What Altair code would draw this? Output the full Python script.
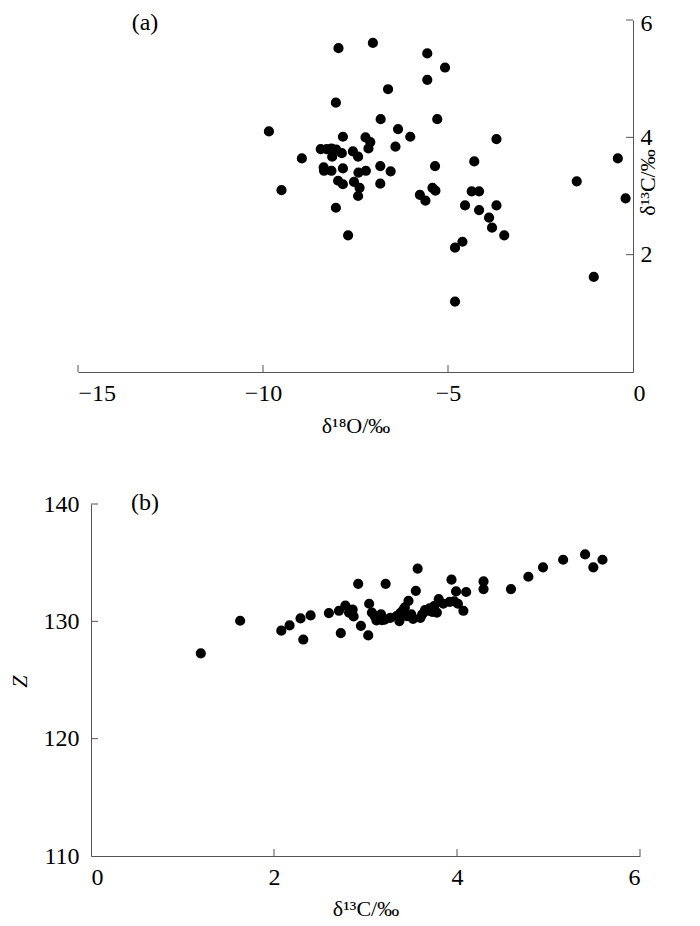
import altair as alt
import pandas as pd

# ---------------- data ----------------
# panel (a): delta18O vs delta13C
d18O = [-9.84, -9.50, -8.95, -7.96, -7.03, -8.03, -7.84, -7.23, -7.10, -7.15,
        -6.82, -6.62, -6.35, -6.02, -6.42, -6.83, -6.55, -6.83, -8.03, -7.70,
        -5.56, -5.08, -5.56, -5.29, -5.35, -5.76, -5.61, -5.42, -5.34, -4.29,
        -4.36, -4.16, -4.54, -4.16, -3.69, -3.69, -3.89, -3.81, -3.48, -4.81,
        -4.61, -4.81, -1.52, -0.41, -0.20, -1.06,
        -8.44, -8.28, -8.02, -7.87, -8.13, -7.57, -7.43, -8.36, -8.35, -8.15,
        -7.84, -7.42, -7.22, -7.97, -7.84, -7.54, -7.39, -7.43, -8.15]
d13C_a = [4.10, 3.10, 3.64, 5.52, 5.61, 4.59, 4.01, 4.00, 3.92, 3.81,
          4.31, 4.82, 4.14, 4.01, 3.84, 3.51, 3.42, 3.21, 2.80, 2.33,
          5.43, 5.19, 4.98, 4.31, 3.51, 3.02, 2.92, 3.14, 3.09, 3.59,
          3.08, 3.08, 2.84, 2.76, 2.84, 3.97, 2.63, 2.46, 2.33, 2.12,
          2.22, 1.20, 3.25, 3.64, 2.96, 1.62,
          3.80, 3.80, 3.79, 3.73, 3.67, 3.76, 3.67, 3.49, 3.43, 3.43,
          3.47, 3.40, 3.43, 3.26, 3.20, 3.24, 3.14, 3.00, 3.81]

# panel (b): delta13C vs Z
d13C_b = [1.20, 1.63, 2.08, 2.17, 2.29, 2.32, 2.40, 2.60, 2.71, 2.73,
          2.78, 2.82, 2.87, 2.92, 2.95, 3.03, 3.04, 3.07, 3.10, 3.12,
          3.17, 3.21, 3.22, 3.34, 3.37, 3.41, 3.45, 3.47, 3.57, 3.55,
          3.52, 3.60, 3.65, 3.70, 3.73, 3.78, 3.80, 3.92, 3.94, 3.99,
          4.01, 4.07, 4.10, 4.29, 4.29, 4.59, 4.78, 4.94, 5.16, 5.40,
          5.49, 5.59,
          3.12, 3.18, 3.38, 3.43, 3.50, 3.62, 3.68, 3.75, 3.85, 3.97,
          2.86, 3.27]
Z = [127.27, 130.05, 129.20, 129.65, 130.25, 128.45, 130.50, 130.70, 130.90, 129.00,
     131.35, 130.75, 130.42, 133.20, 129.62, 128.80, 131.50, 130.75, 130.45, 130.07,
     130.60, 130.15, 133.20, 130.44, 130.02, 130.95, 130.45, 131.75, 134.50, 132.60,
     130.20, 130.30, 130.95, 131.10, 130.80, 130.75, 131.90, 131.65, 133.55, 132.55,
     131.50, 130.90, 132.50, 133.40, 132.75, 132.75, 133.80, 134.60, 135.25, 135.70,
     134.60, 135.25,
     130.30, 130.10, 130.70, 131.20, 130.60, 130.60, 130.90, 131.30, 131.50, 131.70,
     131.00, 130.30]

ticks_a_x = [-15, -10, -5, 0]
ticks_a_y = [2, 4, 6]
ticks_b_x = [0, 2, 4, 6]
ticks_b_y = [110, 120, 130, 140]
panel_a_label = ["(a)"]
panel_b_label = ["(b)"]

# ---------------- style ----------------
FONT = "Liberation Serif"
FS = 24       # tick labels, panel letters
TFS = 22      # axis titles
AX = "#555555"
TICK = 7
WA, HA = 542, 352
WB, HB = 549, 352
DOT = 104

df_a = pd.DataFrame({"d18O": d18O, "d13C": d13C_a})
df_b = pd.DataFrame({"d13C": d13C_b, "Z": Z})

xa = alt.Scale(domain=[-15, 0], range=[-13, WA], nice=False, zero=False)
ya = alt.Scale(domain=[0, 6], range=[HA, 0], nice=False, zero=False)
xb = alt.Scale(domain=[0, 6], nice=False, zero=False)
yb = alt.Scale(domain=[110, 140], nice=False, zero=False)

ax_xa = alt.Axis(
    orient="bottom", values=ticks_a_x, format="d", labelPadding=9,
    labelOffset={"condition": {"test": "datum.value === 0", "value": 12}, "value": 0},
    title="δ¹⁸O/‰", titleBaseline="alphabetic", titleY=60)
ax_ya = alt.Axis(
    orient="right", values=ticks_a_y, format="d", labelPadding=7, labelAlign="left",
    labelOffset={"condition": {"test": "datum.value === 6", "value": 3}, "value": 0},
    title="δ¹³C/‰", titleAngle=270, titleAlign="center", titleBaseline="middle",
    titleX=14, titleY=162)
ax_xb = alt.Axis(
    orient="bottom", values=ticks_b_x, format="d", labelPadding=9,
    title="δ¹³C/‰", titleBaseline="alphabetic", titleY=59)
ax_yb = alt.Axis(
    orient="left", values=ticks_b_y, format="d", labelPadding=12,
    title="Z", titleFontStyle="italic", titleAngle=270, titleAlign="center",
    titleBaseline="middle", titleX=-71.5, titleY=177)

# ---------------- panel (a) ----------------
pts_a = alt.Chart(df_a).mark_circle(size=DOT, color="black", opacity=1).encode(
    x=alt.X("d18O:Q", scale=xa, axis=ax_xa),
    y=alt.Y("d13C:Q", scale=ya, axis=ax_ya),
)
tx_a = alt.Chart(pd.DataFrame({"d18O": ticks_a_x[:-1]})).mark_rule(color=AX, strokeWidth=1).encode(
    x=alt.X("d18O:Q", scale=xa, axis=ax_xa), y=alt.value(HA), y2=alt.value(HA - TICK))
ty_a = alt.Chart(pd.DataFrame({"d13C": ticks_a_y})).mark_rule(color=AX, strokeWidth=1).encode(
    y=alt.Y("d13C:Q", scale=ya, axis=ax_ya), x=alt.value(WA), x2=alt.value(WA - TICK))
lab_a = alt.Chart(pd.DataFrame({"t": panel_a_label})).mark_text(
    font=FONT, fontSize=FS, color="black", align="center", baseline="middle").encode(
    text="t:N", x=alt.value(54), y=alt.value(3))
panel_a = alt.layer(pts_a, tx_a, ty_a, lab_a).properties(width=WA, height=HA)

# ---------------- panel (b) ----------------
pts_b = alt.Chart(df_b).mark_circle(size=DOT, color="black", opacity=1).encode(
    x=alt.X("d13C:Q", scale=xb, axis=ax_xb),
    y=alt.Y("Z:Q", scale=yb, axis=ax_yb),
)
tx_b = alt.Chart(pd.DataFrame({"d13C": ticks_b_x[1:]})).mark_rule(color=AX, strokeWidth=1).encode(
    x=alt.X("d13C:Q", scale=xb, axis=ax_xb), y=alt.value(HB), y2=alt.value(HB - TICK))
ty_b = alt.Chart(pd.DataFrame({"Z": ticks_b_y[1:]})).mark_rule(color=AX, strokeWidth=1).encode(
    y=alt.Y("Z:Q", scale=yb, axis=ax_yb), x=alt.value(0), x2=alt.value(TICK))
lab_b = alt.Chart(pd.DataFrame({"t": panel_b_label})).mark_text(
    font=FONT, fontSize=FS, color="black", align="center", baseline="middle").encode(
    text="t:N", x=alt.value(54), y=alt.value(-0.7))
panel_b = alt.layer(pts_b, tx_b, ty_b, lab_b).properties(width=WB, height=HB)

chart = alt.vconcat(panel_a, panel_b, spacing=55).properties(
    padding={"left": 0, "top": 3, "right": 5, "bottom": 5},
    background="white",
).configure_view(stroke=None).configure_axis(
    grid=False, ticks=False, domainColor=AX, domainWidth=1,
    labelFont=FONT, labelFontSize=FS, labelColor="black",
    titleFont=FONT, titleFontSize=TFS, titleFontWeight="normal", titleColor="black",
)

chart.save("out.html", embed_options={"renderer": "svg", "actions": False})
